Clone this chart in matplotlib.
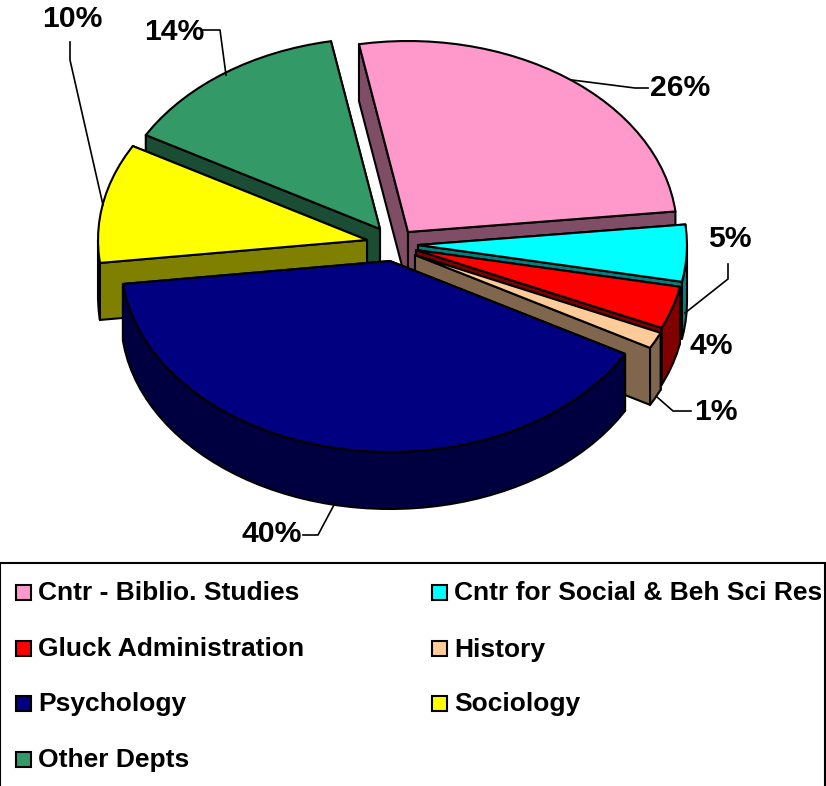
import numpy as np
import matplotlib
matplotlib.use('Agg')
import matplotlib.pyplot as plt
from matplotlib.patches import Polygon, Rectangle
from matplotlib.colors import to_rgb

plt.rcParams['font.family'] = ['Liberation Sans', 'DejaVu Sans']

departments = ['Cntr - Biblio. Studies', 'Cntr for Social & Beh Sci Res', 'Gluck Administration',
               'History', 'Psychology', 'Sociology', 'Other Depts']
shares = [26.2, 4.8, 3.6, 1.4, 40.0, 10.1, 13.9]

colors = ['#FF99CC', '#00FFFF', '#FF0000', '#FFCC99', '#000080', '#FFFF00', '#339966']
# where each exploded slice has its tip, in pixels
tips = [(408, 232), (418, 245), (416, 250), (415, 255), (390, 261), (367, 240), (380, 229)]
label_pos = [(680, 88), (730, 239), (711, 346), (716, 412), (272, 534), (72, 19), (174, 32)]
leaders = [[(572, 80), (635, 88), (648, 88)],
           [(728, 264), (728, 279), (685, 313)],
           None,
           [(657, 397), (673, 411), (691, 411)],
           [(303, 535), (318, 535), (335, 503)],
           [(70, 42), (70, 60), (103, 205)],
           [(203, 30), (220, 30), (226, 75)]]
draw_order = [0, 6, 5, 1, 2, 3, 4]

rx, ry = 269, 191
depth = 57
start_angle = -10.5
lw = 1.5


def rim(tip, a1, a2):
    t = np.radians(np.arange(a1, a2, 3).tolist() + [a2])
    return np.column_stack([tip[0] + rx * np.sin(t), tip[1] - ry * np.cos(t)])


def poly(ax, pts, color, z):
    ax.add_patch(Polygon(pts, closed=True, fc=color, ec='black', lw=lw, joinstyle='round', zorder=z))


fig = plt.figure(figsize=(8.26, 7.86), dpi=100)
ax = fig.add_axes([0, 0, 1, 1])
ax.set_xlim(0, 826)
ax.set_ylim(786, 0)
ax.axis('off')

edges = np.cumsum([0] + shares) / sum(shares) * 360 + start_angle
down = np.array([0, depth])
z = 1
for i in draw_order:
    a1, a2 = edges[i], edges[i + 1]
    tip = np.array(tips[i], dtype=float)
    top = rim(tip, a1, a2)
    dark = tuple(c * 0.5 for c in to_rgb(colors[i]))

    # side walls, lower one goes last
    for p in sorted([top[0], top[-1]], key=lambda q: q[1]):
        poly(ax, [tip, p, p + down, tip + down], dark, z)
        z += 1
    # outer wall, only the front half can be seen
    f1, f2 = max(a1, 90), min(a2, 270)
    if f1 < f2:
        arc = rim(tip, f1, f2)
        poly(ax, np.vstack([arc, arc[::-1] + down]), dark, z)
        z += 1
    poly(ax, np.vstack([tip, top]), colors[i], z)
    z += 1

for i in range(len(shares)):
    ax.text(label_pos[i][0], label_pos[i][1], f'{shares[i]:.0f}%', fontsize=21.7, fontweight='bold',
            ha='center', va='center', color='black', zorder=200)
    if leaders[i] is not None:
        xs, ys = zip(*leaders[i])
        ax.plot(xs, ys, color='black', lw=1.2, zorder=150)

# legend box runs off the picture on the right and at the bottom
ax.add_patch(Rectangle((0, 563), 825, 240, fc='white', ec='black', lw=1.5, zorder=100))
col_x = [15, 431]
row_y = [592, 648, 703, 759]
legend_rows = [0, 0, 1, 1, 2, 2, 3]
for i, name in enumerate(departments):
    x = col_x[i % 2]
    y = row_y[legend_rows[i]]
    ax.add_patch(Rectangle((x + 0.5, y - 7.5), 15, 15, fc=colors[i], ec='black', lw=1.5, zorder=101))
    ax.text(x + 23, y + 1.5, name, fontsize=19, fontweight='bold', ha='left', va='center', zorder=102)

fig.savefig('out.png', dpi=100)
